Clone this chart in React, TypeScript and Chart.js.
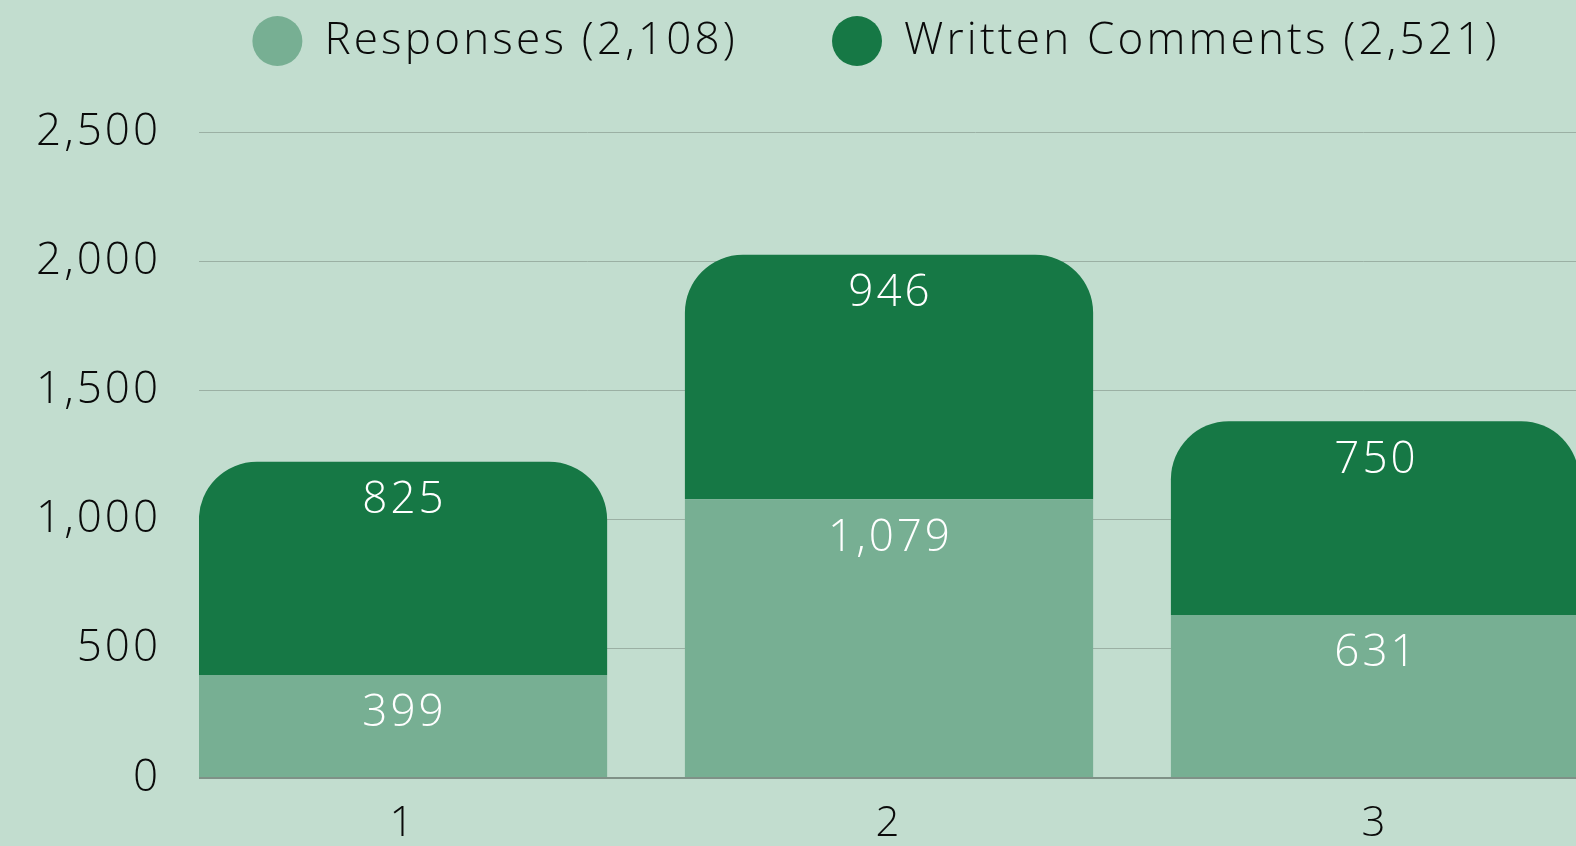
import { useEffect, useRef } from "react";
import { Chart, registerables } from "chart.js";

Chart.register(...registerables);

const categories = [1, 2, 3];
const responses = [399, 1079, 631];
const writtenComments = [825, 946, 750];
const seriesNames = ["Responses", "Written Comments"];
const seriesTotals = [2108, 2521];

const BG = "#c2ddcf";
const LIGHT = "#77af93";
const DARK = "#167845";
const TEXT = "#0a0a0a";
const FONT = "'Open Sans', Lato, sans-serif";
const WEIGHT = "300";
const SPACING = "3px";

const fmt = (v: number) => v.toLocaleString("en-US");

const spacingPlugin = {
  id: "letterSpacing",
  beforeDraw(chart: any) {
    (chart.ctx as any).letterSpacing = SPACING;
  },
};

const legendPlugin = {
  id: "topLegend",
  afterDraw(chart: any) {
    const ctx = chart.ctx;
    ctx.save();
    ctx.letterSpacing = "3.2px";
    ctx.font = `${WEIGHT} 44px ${FONT}`;
    ctx.textBaseline = "middle";
    const r = 25;
    const textGap = 47;
    const itemGap = 94;
    const items = chart.data.datasets.map((ds: any) => ({
      text: ds.label,
      color: ds.backgroundColor,
      w: ctx.measureText(ds.label).width,
    }));
    const total =
      items.reduce((s: number, it: any) => s + r + textGap + it.w, 0) +
      itemGap * (items.length - 1);
    let x = chart.width / 2 - total / 2;
    const cy = 41;
    for (const it of items) {
      ctx.fillStyle = it.color;
      ctx.beginPath();
      ctx.arc(x + r, cy, r, 0, Math.PI * 2);
      ctx.fill();
      ctx.fillStyle = TEXT;
      ctx.textAlign = "left";
      ctx.fillText(it.text, x + r + textGap, cy);
      x += r + textGap + it.w + itemGap;
    }
    ctx.restore();
  },
};

const valueLabelPlugin = {
  id: "valueLabels",
  afterDatasetsDraw(chart: any) {
    const ctx = chart.ctx;
    ctx.save();
    ctx.letterSpacing = SPACING;
    ctx.font = `${WEIGHT} 44px ${FONT}`;
    ctx.fillStyle = "#ffffff";
    ctx.textAlign = "center";
    ctx.textBaseline = "middle";
    chart.data.datasets.forEach((ds: any, di: number) => {
      const meta = chart.getDatasetMeta(di);
      meta.data.forEach((bar: any, i: number) => {
        const v = ds.data[i].y;
        ctx.fillText(fmt(v), bar.x + 1.5, bar.y + 39);
      });
    });
    ctx.restore();
  },
};

export default function App() {
  const ref = useRef<HTMLCanvasElement>(null);

  useEffect(() => {
    if (!ref.current) return;
    const chart = new Chart(ref.current, {
      type: "bar",
      data: {
        datasets: [
          {
            label: `${seriesNames[0]} (${fmt(seriesTotals[0])})`,
            data: categories.map((c, i) => ({ x: c, y: responses[i] })),
            backgroundColor: LIGHT,
            borderWidth: 0,
            borderRadius: 0,
            categoryPercentage: 1,
            barPercentage: 0.84,
          },
          {
            label: `${seriesNames[1]} (${fmt(seriesTotals[1])})`,
            data: categories.map((c, i) => ({ x: c, y: writtenComments[i] })),
            backgroundColor: DARK,
            borderWidth: 0,
            borderRadius: { topLeft: 58, topRight: 58, bottomLeft: 0, bottomRight: 0 },
            borderSkipped: "bottom",
            categoryPercentage: 1,
            barPercentage: 0.84,
          },
        ],
      },
      options: {
        responsive: false,
        animation: false,
        layout: { padding: { top: 132, left: 0, right: 0, bottom: 0 } },
        plugins: {
          legend: { display: false },
          tooltip: { enabled: false },
        },
        scales: {
          x: {
            type: "linear",
            offset: false,
            min: 0.5802,
            max: 3.7757,
            stacked: true,
            afterBuildTicks: (s: any) => {
              s.ticks = categories.map((v) => ({ value: v }));
            },
            afterFit: (s: any) => {
              s.height = 68;
            },
            ticks: {
              callback: (v: any) => String(v),
              font: { family: FONT, size: 42, weight: WEIGHT },
              color: TEXT,
              padding: 21,
              maxRotation: 0,
              autoSkip: false,
            },
            grid: { display: false, drawTicks: false, offset: false },
            border: { display: false },
          },
          y: {
            stacked: true,
            min: 0,
            max: 2500,
            afterFit: (s: any) => {
              s.width = 199;
            },
            ticks: {
              stepSize: 500,
              callback: (v: any) => fmt(Number(v)),
              font: { family: FONT, size: 44, weight: WEIGHT },
              color: TEXT,
              padding: 38,
            },
            grid: {
              drawTicks: false,
              color: (c: any) => (c.tick && c.tick.value === 0 ? "#7f9187" : "#9bb0a4"),
              lineWidth: (c: any) => (c.tick && c.tick.value === 0 ? 2 : 1),
            },
            border: { display: false },
          },
        },
      },
      plugins: [spacingPlugin, valueLabelPlugin, legendPlugin],
    });
    return () => chart.destroy();
  }, []);

  return (
    <div
      style={{
        position: "fixed",
        left: 0,
        top: 0,
        width: 1576,
        height: 846,
        overflow: "hidden",
        background: BG,
      }}
    >
      <canvas ref={ref} width={1752} height={846} style={{ display: "block" }} />
    </div>
  );
}
